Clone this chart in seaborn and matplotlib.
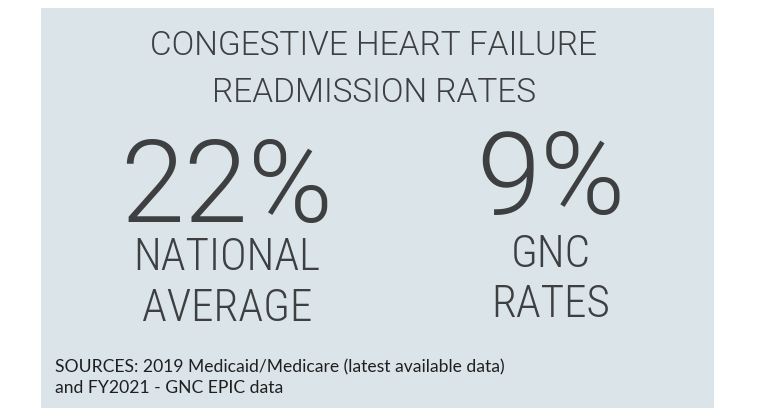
import matplotlib
matplotlib.use('Agg')
import matplotlib.pyplot as plt
import seaborn as sns
from matplotlib.patches import Rectangle

# data
title_lines = ['CONGESTIVE HEART FAILURE', 'READMISSION RATES']
rates = [22, 9]
rate_labels = [['NATIONAL', 'AVERAGE'], ['GNC', 'RATES']]
sources = ['SOURCES: 2019 Medicaid/Medicare (latest available data)',
           'and FY2021 - GNC EPIC data']

sns.set_theme(style='white')
wide = ['Roboto', 'DejaVu Sans']
narrow = ['Roboto Condensed', 'Roboto', 'DejaVu Sans']
ink = '#3d3f40'
panel = '#dbe5e9'

fig = plt.figure(figsize=(7.62, 4.12), dpi=100)
ax = fig.add_axes([0, 0, 1, 1])
ax.set_xlim(0, 762)
ax.set_ylim(412, 0)
ax.axis('off')

ax.add_patch(Rectangle((41, 8), 673, 400, facecolor=panel, edgecolor='none'))

# title
for i, line in enumerate(title_lines):
    ax.text(374, 55 + 47 * i, line, ha='center', va='baseline',
            fontsize=24, family=wide, fontweight=300, color=ink)

# big numbers and labels
col_x = [227, 551]
num_y = [222, 214]
lab_y = [[270, 321], [267, 317]]
for x, ny, ly, val, labs in zip(col_x, num_y, lab_y, rates, rate_labels):
    ax.text(x, ny, f'{val}%', ha='center', va='baseline',
            fontsize=83, family=wide, fontweight=300, color=ink)
    for y, lab in zip(ly, labs):
        ax.text(x, y, lab, ha='center', va='baseline',
                fontsize=32.5, family=narrow, fontweight=300, color=ink)

# sources
for k, s in enumerate(sources):
    ax.text(55, 372 + 21 * k, s, ha='left', va='baseline',
            fontsize=12.6, family=['Lato', 'DejaVu Sans'], color='#1f1f1f')

fig.savefig('out.png', dpi=100)
